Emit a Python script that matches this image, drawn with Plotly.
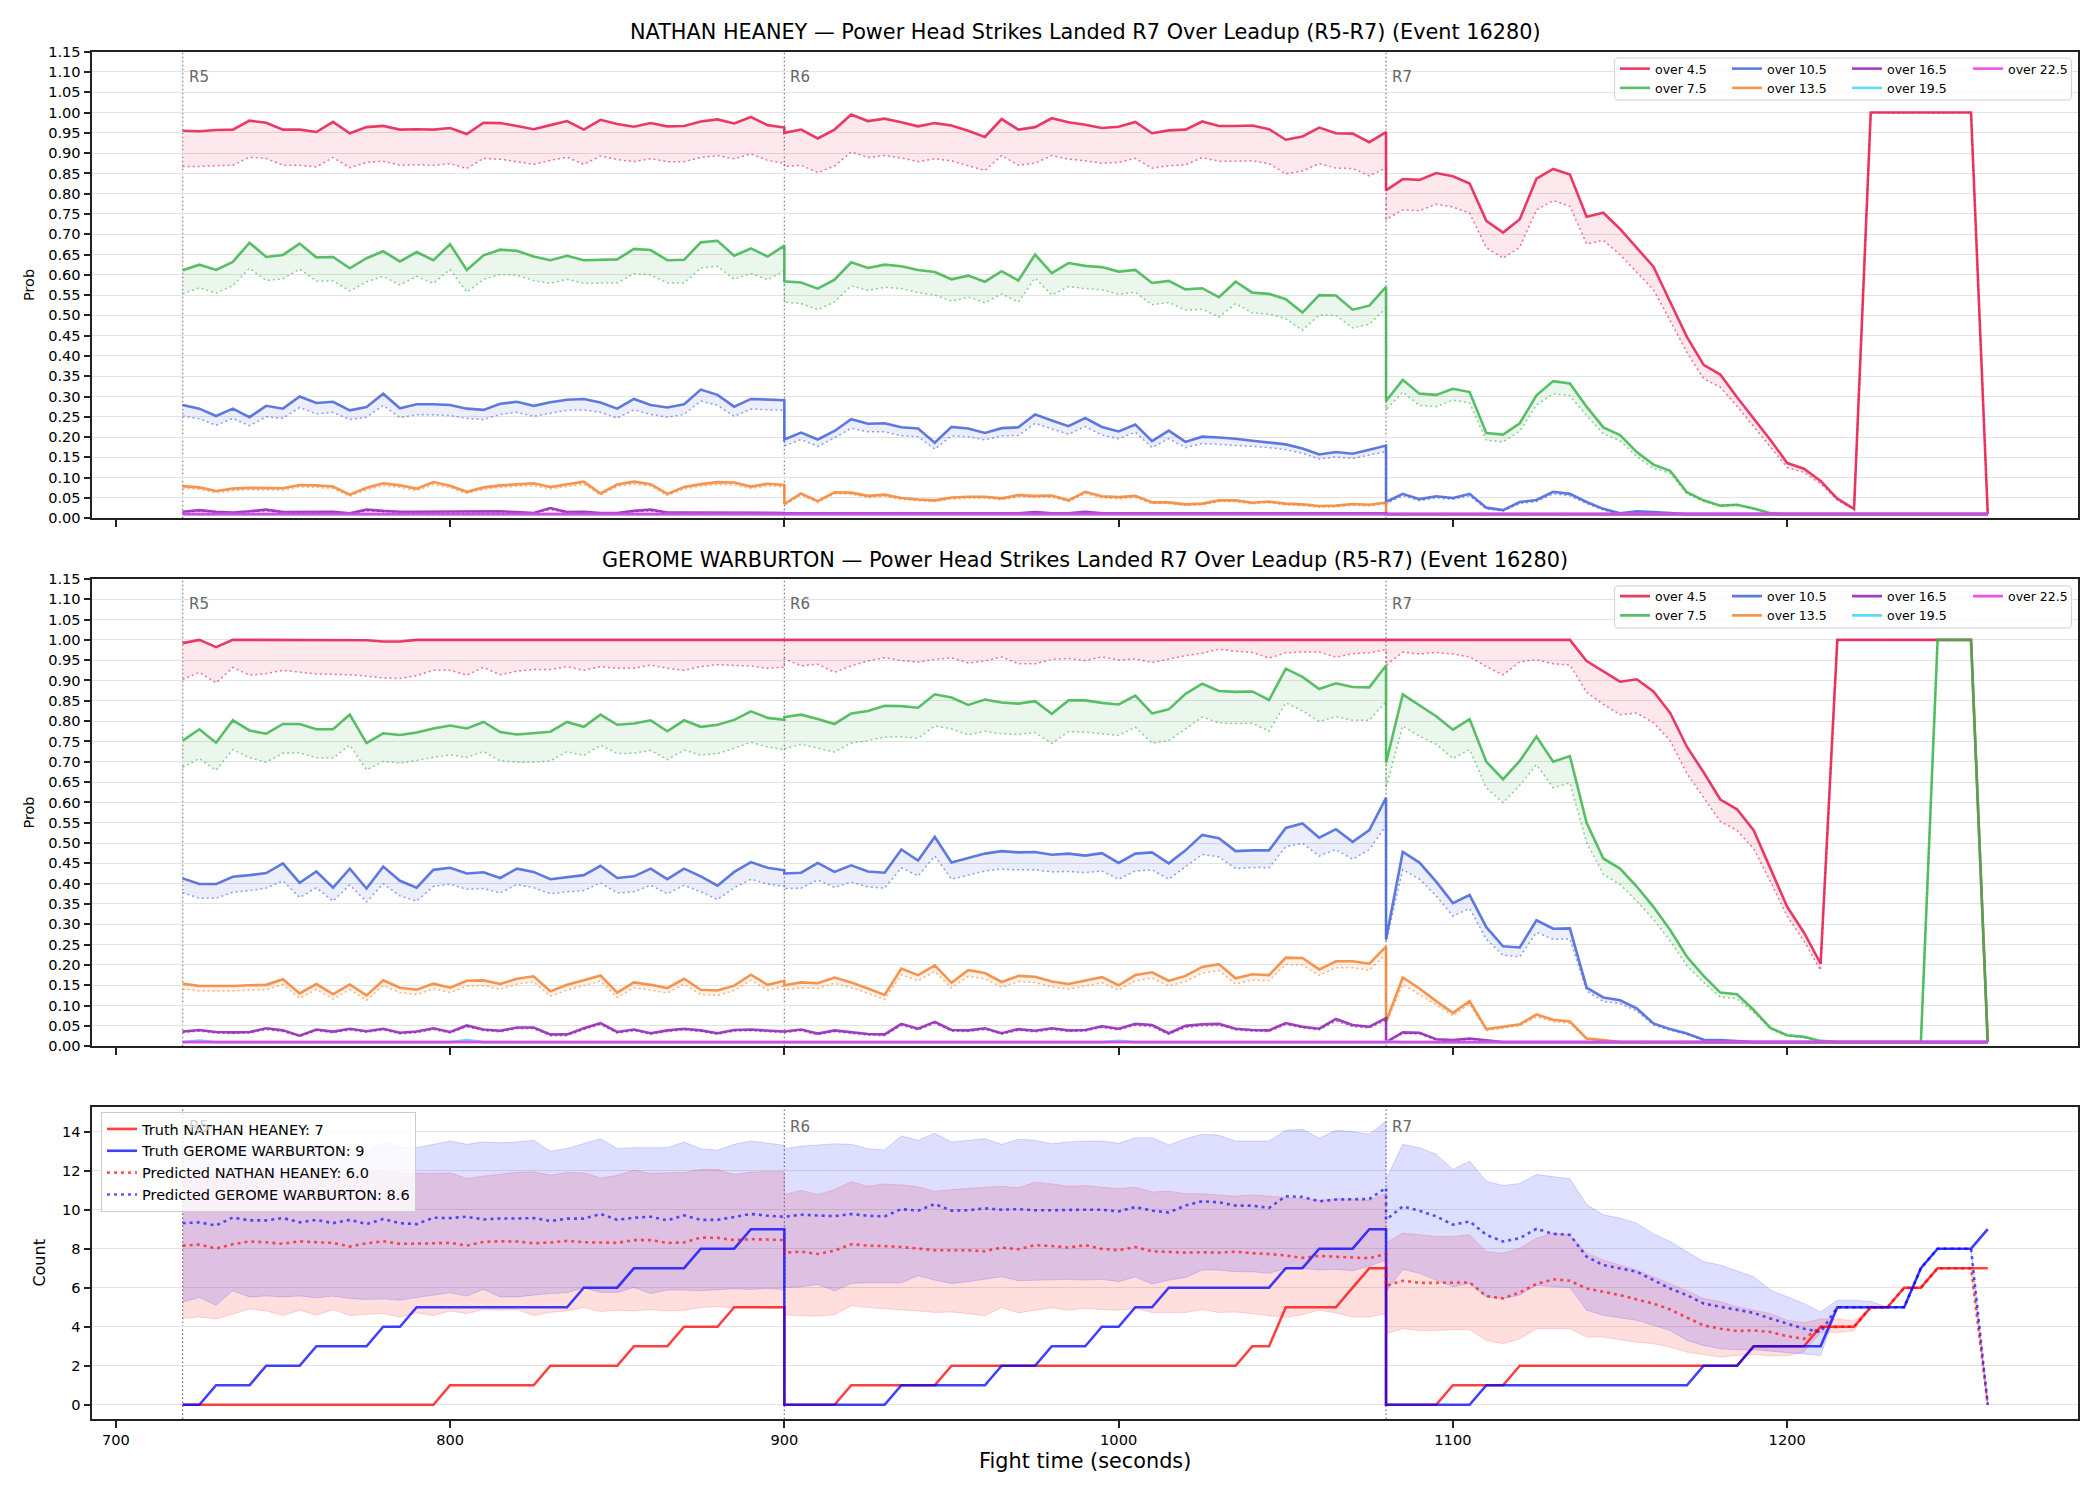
import plotly.graph_objects as go

W, H = 2100, 1500
FONT = "DejaVu Sans"

# ---------------- time grid (5 s samples, three rounds) ----------------
ROUND_STARTS = [720, 900, 1080]
ROUND_NAMES = ["R5", "R6", "R7"]
STEP = 5
PER_ROUND = 37
TIMES = [s + STEP * k for s in ROUND_STARTS for k in range(PER_ROUND)]
N = len(TIMES)

LINES = ["over 4.5", "over 7.5", "over 10.5", "over 13.5", "over 16.5", "over 19.5", "over 22.5"]
LINE_COLORS = ["#e6194b", "#3cb44b", "#4363d8", "#f58231", "#911eb4", "#42d4f4", "#f032e6"]

# ---------------- NATHAN HEANEY probabilities (solid / dotted) ----------------
H_O45 = ([0.955,0.954,0.957,0.958,0.980,0.975,0.958,0.958,0.952,0.977,0.949,0.964,0.967,0.958,0.959,0.958,0.962,0.947,0.975,0.974,0.967,0.959,0.969,0.979,0.958,0.982,0.972,0.965,0.974,0.966,0.967,0.978,0.983,0.973,0.989,0.969,0.963]
         + [0.950,0.958,0.936,0.958,0.995,0.979,0.985,0.976,0.966,0.974,0.968,0.955,0.940,0.984,0.958,0.964,0.986,0.976,0.970,0.962,0.965,0.977,0.949,0.956,0.958,0.978,0.967,0.967,0.968,0.959,0.933,0.941,0.963,0.949,0.948,0.927,0.952]
         + [0.808,0.836,0.834,0.851,0.843,0.825,0.733,0.704,0.737,0.837,0.861,0.847,0.743,0.753,0.713,0.666,0.620,0.533,0.447,0.378,0.354,0.298,0.246,0.193,0.136,0.122,0.092,0.048,0.023] + [1.0]*7 + [0.01])
H_O45_LO = ([0.867,0.867,0.869,0.870,0.890,0.887,0.870,0.870,0.866,0.889,0.864,0.877,0.880,0.870,0.871,0.870,0.874,0.862,0.887,0.885,0.879,0.872,0.882,0.890,0.872,0.893,0.884,0.879,0.886,0.879,0.879,0.889,0.894,0.886,0.898,0.882,0.875]
            + [0.867,0.870,0.852,0.868,0.903,0.889,0.894,0.888,0.879,0.886,0.881,0.869,0.857,0.894,0.870,0.875,0.894,0.885,0.881,0.875,0.877,0.887,0.863,0.869,0.871,0.889,0.880,0.880,0.881,0.874,0.849,0.856,0.874,0.863,0.862,0.844,0.863]
            + [0.736,0.760,0.758,0.774,0.767,0.752,0.667,0.641,0.668,0.760,0.783,0.769,0.676,0.685,0.650,0.607,0.563,0.487,0.409,0.344,0.323,0.276,0.226,0.177,0.125,0.113,0.085,0.045,0.021] + [1.0]*7 + [0.01])
H_O75 = ([0.611,0.625,0.612,0.632,0.679,0.644,0.649,0.677,0.643,0.644,0.616,0.641,0.658,0.633,0.656,0.636,0.675,0.612,0.648,0.662,0.659,0.645,0.636,0.647,0.636,0.637,0.638,0.664,0.661,0.636,0.637,0.680,0.684,0.647,0.665,0.645,0.672]
         + [0.584,0.581,0.566,0.588,0.631,0.617,0.625,0.621,0.612,0.607,0.589,0.598,0.583,0.609,0.586,0.650,0.604,0.629,0.622,0.619,0.608,0.612,0.580,0.585,0.564,0.567,0.545,0.583,0.556,0.553,0.540,0.507,0.550,0.549,0.514,0.524,0.570]
         + [0.289,0.341,0.307,0.304,0.319,0.311,0.210,0.206,0.234,0.303,0.338,0.332,0.275,0.224,0.205,0.163,0.132,0.117,0.064,0.044,0.031,0.033,0.024,0.012] + [0.01]*13)
H_O75_LO = ([0.553,0.568,0.555,0.573,0.616,0.586,0.590,0.614,0.585,0.585,0.560,0.583,0.596,0.575,0.596,0.579,0.613,0.557,0.589,0.601,0.599,0.586,0.579,0.589,0.579,0.580,0.580,0.603,0.600,0.580,0.580,0.617,0.621,0.589,0.603,0.588,0.610]
            + [0.533,0.529,0.514,0.533,0.573,0.562,0.569,0.566,0.556,0.550,0.535,0.545,0.531,0.553,0.533,0.592,0.550,0.571,0.566,0.563,0.552,0.557,0.526,0.532,0.513,0.515,0.496,0.529,0.506,0.503,0.492,0.463,0.501,0.500,0.469,0.478,0.518]
            + [0.267,0.311,0.278,0.275,0.291,0.284,0.192,0.188,0.215,0.279,0.307,0.302,0.253,0.208,0.191,0.152,0.123,0.111,0.060,0.041,0.030,0.032,0.023,0.012] + [0.01]*13)
H_O105 = ([0.279,0.270,0.252,0.270,0.249,0.277,0.270,0.300,0.284,0.287,0.266,0.274,0.307,0.271,0.281,0.281,0.279,0.270,0.267,0.282,0.287,0.277,0.286,0.292,0.294,0.285,0.270,0.294,0.279,0.273,0.281,0.317,0.304,0.275,0.294,0.293,0.291]
          + [0.194,0.211,0.194,0.215,0.244,0.233,0.234,0.224,0.221,0.186,0.225,0.221,0.210,0.222,0.224,0.256,0.241,0.227,0.247,0.225,0.214,0.231,0.190,0.216,0.188,0.201,0.199,0.196,0.191,0.187,0.182,0.172,0.157,0.163,0.159,0.169,0.179]
          + [0.040,0.060,0.047,0.054,0.050,0.060,0.026,0.020,0.040,0.045,0.065,0.060,0.040,0.023,0.012,0.017,0.015,0.012] + [0.01]*19)
H_O105_LO = ([0.252,0.245,0.229,0.246,0.228,0.250,0.246,0.273,0.257,0.261,0.243,0.249,0.278,0.248,0.255,0.255,0.253,0.246,0.243,0.256,0.261,0.251,0.259,0.266,0.267,0.261,0.247,0.267,0.256,0.249,0.256,0.289,0.278,0.251,0.269,0.268,0.266]
             + [0.178,0.194,0.177,0.198,0.222,0.213,0.213,0.203,0.201,0.170,0.203,0.201,0.193,0.203,0.204,0.234,0.220,0.207,0.226,0.205,0.196,0.212,0.174,0.196,0.174,0.184,0.182,0.180,0.177,0.174,0.169,0.160,0.146,0.151,0.147,0.156,0.164]
             + [0.036,0.055,0.043,0.050,0.046,0.055,0.023,0.018,0.036,0.041,0.060,0.055,0.036,0.020,0.011,0.015,0.013,0.011] + [0.01]*19)
H_O135 = ([0.079,0.076,0.067,0.073,0.075,0.074,0.074,0.082,0.081,0.078,0.058,0.075,0.086,0.081,0.073,0.089,0.080,0.065,0.076,0.081,0.084,0.086,0.077,0.083,0.090,0.061,0.083,0.090,0.084,0.060,0.077,0.084,0.089,0.088,0.078,0.085,0.082]
          + [0.035,0.061,0.042,0.064,0.063,0.055,0.058,0.050,0.046,0.044,0.051,0.053,0.053,0.049,0.057,0.055,0.056,0.044,0.065,0.054,0.052,0.055,0.039,0.039,0.034,0.036,0.044,0.044,0.038,0.041,0.036,0.034,0.030,0.031,0.035,0.033,0.039]
          + [0.01]*37)
H_O135_LO = ([0.074,0.071,0.063,0.068,0.070,0.069,0.069,0.077,0.076,0.073,0.054,0.070,0.080,0.076,0.068,0.083,0.075,0.061,0.071,0.076,0.079,0.080,0.072,0.078,0.084,0.057,0.078,0.084,0.079,0.056,0.072,0.079,0.083,0.082,0.073,0.080,0.077]
             + [0.032,0.057,0.039,0.060,0.059,0.051,0.054,0.046,0.043,0.041,0.047,0.049,0.049,0.045,0.053,0.051,0.052,0.041,0.061,0.050,0.048,0.051,0.036,0.036,0.031,0.033,0.041,0.041,0.035,0.038,0.033,0.031,0.027,0.028,0.032,0.030,0.036]
             + [0.01]*37)
H_O165 = ([0.016,0.020,0.016,0.014,0.017,0.021,0.015,0.015,0.016,0.016,0.012,0.021,0.018,0.016,0.016,0.016,0.016,0.017,0.017,0.017,0.015,0.013,0.025,0.015,0.016,0.013,0.013,0.018,0.021,0.014,0.014,0.014,0.014,0.014,0.014,0.014,0.013]
          + [0.012]*12 + [0.013] + [0.012]*2 + [0.015] + [0.012]*2 + [0.016] + [0.012]*18
          + [0.01]*37)
H_O165_LO = ([0.014,0.017,0.014,0.012,0.015,0.018,0.013,0.013,0.014,0.014,0.011,0.018,0.016,0.014,0.014,0.014,0.014,0.015,0.015,0.015,0.013,0.012,0.021,0.013,0.014,0.012,0.012,0.016,0.018,0.012,0.012,0.012,0.012,0.012,0.012,0.012,0.012]
             + [0.011]*12 + [0.012] + [0.011]*2 + [0.013] + [0.011]*2 + [0.014] + [0.011]*18
             + [0.01]*37)
H_O195 = [0.01]*111
H_O195_LO = [0.01]*111
H_O225 = [0.01]*111
H_O225_LO = [0.01]*111

# ---------------- GEROME WARBURTON probabilities (solid / dotted) ----------------
G_O45 = ([0.992,1.0,0.982,1.0,1.0,1.0,1.0,1.0,1.0,1.0,1.0,0.999,0.996,0.996] + [1.0]*23
         + [1.0]*37
         + [1.0]*12 + [0.948,0.923,0.897,0.903,0.873,0.820,0.737,0.674,0.607,0.583,0.531,0.437,0.343,0.280,0.203] + [1.0]*9 + [0.01])
G_O45_LO = ([0.902,0.920,0.894,0.932,0.913,0.917,0.925,0.920,0.916,0.915,0.914,0.911,0.906,0.905,0.912,0.925,0.925,0.913,0.932,0.914,0.923,0.927,0.927,0.934,0.925,0.934,0.930,0.930,0.938,0.930,0.925,0.934,0.939,0.937,0.936,0.930,0.933]
            + [0.953,0.936,0.940,0.920,0.936,0.948,0.956,0.949,0.945,0.952,0.956,0.943,0.948,0.958,0.941,0.941,0.952,0.954,0.949,0.958,0.950,0.953,0.944,0.953,0.961,0.967,0.977,0.972,0.969,0.955,0.968,0.970,0.970,0.957,0.966,0.968,0.976]
            + [0.937,0.970,0.965,0.969,0.965,0.958,0.934,0.914,0.946,0.951,0.941,0.938,0.871,0.841,0.816,0.820,0.796,0.752,0.671,0.613,0.553,0.531,0.486,0.405,0.320,0.259,0.187] + [1.0]*9 + [0.01])
G_O75 = ([0.752,0.780,0.747,0.802,0.777,0.769,0.793,0.793,0.780,0.780,0.816,0.746,0.770,0.766,0.772,0.782,0.789,0.782,0.798,0.773,0.767,0.770,0.774,0.798,0.786,0.816,0.791,0.794,0.802,0.775,0.802,0.786,0.791,0.803,0.824,0.808,0.803]
         + [0.810,0.816,0.805,0.793,0.819,0.825,0.838,0.837,0.833,0.866,0.858,0.840,0.853,0.846,0.843,0.849,0.818,0.851,0.851,0.845,0.841,0.863,0.819,0.829,0.867,0.892,0.874,0.872,0.873,0.852,0.929,0.909,0.879,0.893,0.884,0.883,0.937]
         + [0.698,0.866,0.839,0.812,0.779,0.805,0.700,0.657,0.702,0.762,0.700,0.714,0.550,0.462,0.437,0.393,0.343,0.286,0.220,0.173,0.132,0.128,0.089,0.045,0.027,0.023,0.013] + [0.01]*6 + [1.0]*3 + [0.01])
G_O75_LO = ([0.686,0.708,0.679,0.730,0.710,0.699,0.721,0.722,0.710,0.709,0.741,0.680,0.701,0.697,0.703,0.711,0.717,0.711,0.725,0.702,0.699,0.699,0.702,0.725,0.715,0.741,0.720,0.721,0.728,0.705,0.729,0.716,0.720,0.733,0.748,0.736,0.730]
            + [0.732,0.743,0.733,0.724,0.746,0.752,0.761,0.761,0.758,0.788,0.781,0.766,0.775,0.769,0.767,0.772,0.745,0.774,0.773,0.769,0.765,0.785,0.746,0.752,0.782,0.810,0.796,0.794,0.795,0.775,0.845,0.825,0.799,0.811,0.802,0.802,0.848]
            + [0.636,0.788,0.763,0.743,0.708,0.730,0.636,0.599,0.642,0.693,0.636,0.648,0.501,0.423,0.398,0.357,0.312,0.259,0.198,0.157,0.121,0.117,0.083,0.042,0.025,0.021,0.012] + [0.01]*6 + [1.0]*3 + [0.01])
G_O105 = ([0.413,0.399,0.399,0.417,0.421,0.426,0.450,0.402,0.430,0.390,0.437,0.388,0.442,0.407,0.390,0.434,0.439,0.425,0.428,0.414,0.437,0.429,0.411,0.416,0.421,0.444,0.414,0.418,0.437,0.411,0.437,0.418,0.395,0.429,0.453,0.439,0.433]
          + [0.425,0.427,0.451,0.429,0.445,0.430,0.427,0.484,0.457,0.515,0.452,0.463,0.474,0.480,0.477,0.478,0.471,0.474,0.469,0.475,0.451,0.474,0.477,0.450,0.482,0.520,0.512,0.480,0.482,0.482,0.537,0.548,0.513,0.534,0.503,0.532,0.611]
          + [0.263,0.478,0.452,0.405,0.352,0.372,0.293,0.246,0.243,0.310,0.289,0.290,0.144,0.120,0.113,0.093,0.056,0.042,0.031,0.016,0.015,0.013] + [0.01]*15)
G_O105_LO = ([0.378,0.364,0.364,0.379,0.383,0.389,0.407,0.366,0.390,0.357,0.397,0.355,0.400,0.370,0.357,0.393,0.399,0.386,0.388,0.377,0.398,0.390,0.375,0.380,0.383,0.402,0.377,0.380,0.396,0.375,0.396,0.380,0.361,0.390,0.411,0.399,0.393]
             + [0.388,0.389,0.409,0.391,0.404,0.392,0.389,0.439,0.419,0.468,0.411,0.421,0.431,0.436,0.434,0.434,0.429,0.430,0.427,0.431,0.411,0.431,0.434,0.411,0.441,0.472,0.466,0.437,0.440,0.439,0.491,0.499,0.468,0.484,0.460,0.484,0.543]
             + [0.257,0.435,0.411,0.370,0.320,0.339,0.263,0.224,0.220,0.280,0.263,0.264,0.136,0.110,0.105,0.087,0.052,0.039,0.029,0.015,0.012,0.011] + [0.01]*15)
G_O135 = ([0.154,0.148,0.148,0.148,0.150,0.151,0.165,0.130,0.153,0.128,0.152,0.125,0.162,0.144,0.139,0.154,0.144,0.161,0.162,0.153,0.166,0.172,0.135,0.151,0.162,0.174,0.132,0.157,0.151,0.143,0.166,0.139,0.137,0.149,0.176,0.151,0.161]
          + [0.150,0.157,0.155,0.169,0.157,0.142,0.126,0.191,0.175,0.199,0.156,0.187,0.180,0.158,0.173,0.171,0.159,0.153,0.161,0.170,0.150,0.175,0.182,0.161,0.173,0.195,0.202,0.167,0.177,0.175,0.218,0.217,0.189,0.209,0.209,0.203,0.245]
          + [0.060,0.169,0.142,0.111,0.082,0.111,0.042,0.048,0.054,0.078,0.065,0.061,0.019,0.015] + [0.01]*23)
G_O135_LO = ([0.141,0.136,0.136,0.136,0.138,0.139,0.152,0.118,0.140,0.116,0.139,0.113,0.149,0.132,0.127,0.141,0.132,0.148,0.149,0.140,0.153,0.158,0.123,0.138,0.149,0.160,0.120,0.144,0.138,0.131,0.153,0.127,0.125,0.137,0.162,0.138,0.148]
             + [0.138,0.144,0.142,0.155,0.144,0.130,0.115,0.176,0.161,0.184,0.143,0.172,0.166,0.145,0.159,0.157,0.146,0.140,0.148,0.156,0.138,0.161,0.168,0.148,0.159,0.180,0.186,0.153,0.163,0.161,0.201,0.200,0.174,0.193,0.193,0.187,0.226]
             + [0.055,0.152,0.128,0.102,0.075,0.104,0.038,0.044,0.050,0.072,0.060,0.056,0.017,0.013] + [0.01]*23)
G_O165 = ([0.036,0.040,0.035,0.034,0.035,0.044,0.039,0.026,0.041,0.036,0.043,0.037,0.043,0.033,0.036,0.044,0.035,0.051,0.041,0.038,0.046,0.046,0.029,0.029,0.044,0.057,0.035,0.041,0.032,0.039,0.043,0.039,0.032,0.040,0.041,0.039,0.036]
          + [0.036,0.041,0.031,0.039,0.035,0.030,0.029,0.055,0.043,0.060,0.040,0.039,0.044,0.032,0.042,0.038,0.044,0.039,0.040,0.049,0.043,0.055,0.052,0.032,0.050,0.054,0.055,0.043,0.040,0.039,0.057,0.048,0.043,0.067,0.052,0.048,0.069]
          + [0.01,0.034,0.033,0.017,0.015,0.019,0.014] + [0.01]*30)
G_O165_LO = ([0.033,0.037,0.032,0.031,0.032,0.041,0.036,0.024,0.038,0.033,0.040,0.034,0.040,0.030,0.033,0.041,0.032,0.048,0.038,0.035,0.043,0.043,0.026,0.026,0.041,0.053,0.032,0.038,0.029,0.036,0.040,0.036,0.029,0.037,0.038,0.036,0.033]
             + [0.033,0.038,0.028,0.036,0.032,0.027,0.026,0.051,0.040,0.056,0.037,0.036,0.041,0.029,0.039,0.035,0.041,0.036,0.037,0.046,0.040,0.051,0.048,0.029,0.046,0.050,0.051,0.040,0.037,0.036,0.053,0.045,0.040,0.062,0.048,0.045,0.064]
             + [0.01,0.031,0.030,0.015,0.013,0.017,0.012] + [0.01]*30)
G_O195 = ([0.01,0.014] + [0.01]*15 + [0.015] + [0.01]*19
          + [0.01]*20 + [0.013] + [0.01]*16
          + [0.012] + [0.01]*36)
G_O195_LO = [0.01]*111
G_O225 = [0.01]*111
G_O225_LO = [0.01]*111

# ---------------- counts panel ----------------
TRUTH_NAME_H = "Truth NATHAN HEANEY: 7"
TRUTH_NAME_G = "Truth GEROME WARBURTON: 9"
PRED_NAME_H = "Predicted NATHAN HEANEY: 6.0"
PRED_NAME_G = "Predicted GEROME WARBURTON: 8.6"

TRUTH_H = ([0]*16 + [1]*6 + [2]*5 + [3]*3 + [4]*3 + [5]*4
           + [0]*4 + [1]*6 + [2]*18 + [3]*2 + [5]*4 + [6] + [7]*2
           + [0]*4 + [1]*4 + [2]*14 + [3]*4 + [4]*3 + [5]*2 + [6]*2 + [7]*4)
TRUTH_G = ([0]*2 + [1]*3 + [2]*3 + [3]*4 + [4]*2 + [5]*10 + [6]*3 + [7]*4 + [8]*3 + [9]*3
           + [0]*7 + [1]*6 + [2]*3 + [3]*3 + [4]*2 + [5]*2 + [6]*7 + [7]*2 + [8]*3 + [9]*2
           + [0]*6 + [1]*13 + [2]*3 + [3]*5 + [5]*5 + [7] + [8]*3 + [9])
PRED_H = ([8.16,8.21,8.01,8.23,8.37,8.33,8.25,8.38,8.33,8.30,8.11,8.28,8.38,8.25,8.26,8.28,8.30,8.16,8.35,8.38,8.37,8.28,8.32,8.40,8.33,8.32,8.30,8.44,8.44,8.30,8.32,8.57,8.56,8.44,8.49,8.47,8.44]
          + [7.80,7.85,7.73,7.90,8.23,8.16,8.13,8.09,8.01,7.92,7.92,7.92,7.87,8.06,7.97,8.18,8.14,8.06,8.18,7.99,7.92,8.09,7.87,7.84,7.80,7.82,7.80,7.85,7.77,7.73,7.65,7.53,7.63,7.59,7.54,7.51,7.73]
          + [6.10,6.36,6.25,6.25,6.25,6.27,5.57,5.45,5.76,6.19,6.43,6.36,5.96,5.79,5.62,5.40,5.19,4.88,4.47,4.07,3.90,3.78,3.81,3.73,3.51,3.38,3.99,4.0,4.0,5.0,5.0,6.0,6.0,7.0,7.0,7.0,0.0])
PRED_G = ([9.31,9.35,9.19,9.60,9.45,9.45,9.57,9.35,9.48,9.31,9.48,9.26,9.52,9.31,9.26,9.59,9.57,9.64,9.50,9.55,9.55,9.57,9.42,9.54,9.54,9.78,9.48,9.59,9.64,9.45,9.71,9.48,9.48,9.64,9.78,9.69,9.66]
          + [9.64,9.74,9.71,9.67,9.78,9.69,9.66,10.03,9.95,10.29,9.95,9.97,10.07,10.00,10.03,9.97,9.97,10.00,10.00,10.00,9.91,10.14,9.95,9.86,10.21,10.43,10.38,10.21,10.21,10.09,10.69,10.65,10.43,10.52,10.52,10.55,11.12]
          + [9.48,10.17,9.95,9.66,9.23,9.40,8.71,8.37,8.54,9.02,8.76,8.71,7.59,7.16,6.99,6.82,6.39,5.96,5.62,5.19,5.02,4.88,4.71,4.42,4.16,3.90,3.73,5.0,5.0,5.0,5.0,5.0,7.0,8.0,8.0,8.0,0.0])
BAND_H_HI = ([11.96,11.89,11.86,12.03,11.96,11.98,11.84,11.96,11.89,11.84,11.72,11.96,11.99,11.89,11.87,11.86,11.89,11.60,11.72,11.82,11.92,11.94,11.77,11.91,11.89,11.63,11.75,12.03,11.86,11.89,11.91,12.06,12.06,11.80,11.92,11.96,11.96]
             + [10.77,11.00,10.77,11.03,11.43,11.20,11.32,11.27,11.17,10.95,11.03,11.08,11.12,11.20,11.12,11.41,11.32,11.20,11.24,11.17,11.08,11.15,10.91,10.95,10.82,10.82,10.76,10.69,10.77,10.70,10.60,10.55,10.48,10.55,10.52,10.48,10.86]
             + [8.30,8.80,8.71,8.63,8.63,8.71,7.85,7.77,8.02,8.54,8.80,8.71,7.77,7.42,7.16,6.90,6.56,6.22,5.84,5.45,5.28,5.02,4.85,4.67,4.33,4.21,4.40,4.40,4.30,5.0,5.0,6.0,6.0,7.0,7.0,7.0,0.0])
BAND_H_LO = ([4.43,4.50,4.40,4.67,4.91,4.81,4.57,4.85,4.59,4.88,4.57,4.64,4.67,4.50,4.71,4.57,4.81,4.67,4.88,4.85,4.88,4.57,4.74,4.81,4.98,4.78,4.85,4.81,4.88,4.81,4.85,4.98,5.03,4.97,5.02,4.95,4.98]
             + [4.60,4.57,4.54,4.62,5.07,4.98,4.93,4.85,4.81,4.73,4.76,4.67,4.57,4.98,4.71,4.85,4.97,4.85,4.95,4.88,4.85,4.93,4.73,4.73,4.73,4.88,4.73,4.76,4.67,4.55,4.47,4.62,4.85,4.71,4.50,4.50,4.67]
             + [3.64,3.90,3.81,3.81,3.85,3.85,3.30,3.13,3.38,3.90,3.90,3.90,3.47,3.47,3.33,3.21,3.13,2.96,2.70,2.58,2.44,2.53,2.58,2.51,2.51,2.70,3.70,3.70,3.80,5.0,5.0,6.0,6.0,7.0,7.0,7.0,0.0])
BAND_G_HI = ([12.90,13.00,12.80,13.30,13.20,13.10,13.40,13.00,13.30,13.20,13.10,13.00,13.45,13.20,13.18,13.35,13.52,13.35,13.47,13.43,13.47,13.56,13.00,13.14,13.38,13.64,13.14,13.18,13.18,13.18,13.47,13.12,13.05,13.35,13.52,13.40,13.30]
             + [13.13,13.26,13.32,13.38,13.35,13.13,13.06,13.78,13.56,13.92,13.47,13.57,13.64,13.35,13.61,13.56,13.38,13.47,13.52,13.52,13.40,13.69,13.69,13.32,13.64,13.87,13.81,13.52,13.52,13.52,14.07,14.12,13.66,14.07,14.00,13.87,14.55]
             + [11.55,13.35,13.18,12.84,12.06,12.49,11.46,11.24,11.34,11.80,11.68,11.58,10.26,9.74,9.57,9.31,8.76,8.37,7.85,7.34,7.16,6.87,6.56,5.88,5.53,5.19,4.76,5.36,5.36,5.30,5.0,5.0,7.0,8.0,8.0,8.0,0.0])
BAND_G_LO = ([5.27,5.50,5.10,5.84,5.53,5.58,5.53,5.58,5.48,5.57,5.45,5.40,5.43,5.36,5.50,5.62,5.74,5.57,5.91,5.53,5.53,5.62,5.70,5.74,6.00,5.76,5.76,6.01,5.70,5.88,5.88,5.84,5.88,5.95,5.91,5.96,5.91]
             + [6.01,6.05,6.17,5.84,6.22,6.25,6.25,6.25,6.62,6.39,6.22,6.31,6.44,6.56,6.36,6.39,6.39,6.43,6.39,6.43,6.31,6.56,6.19,6.39,6.53,6.91,6.91,6.82,6.82,6.74,6.99,6.99,6.91,6.94,6.87,7.11,7.42]
             + [5.79,6.94,6.74,6.39,6.05,6.22,5.53,5.45,5.62,6.13,6.05,6.01,4.85,4.59,4.47,4.33,4.07,3.81,3.30,3.04,2.87,2.82,2.82,2.75,2.70,2.61,2.53,4.95,4.95,4.95,5.0,5.0,7.0,8.0,8.0,8.0,0.0])

TITLE_H = "NATHAN HEANEY — Power Head Strikes Landed R7 Over Leadup (R5-R7) (Event 16280)"
TITLE_G = "GEROME WARBURTON — Power Head Strikes Landed R7 Over Leadup (R5-R7) (Event 16280)"
X_TICKS = [700, 800, 900, 1000, 1100, 1200]

PANEL_MAIN = [[H_O45, H_O75, H_O105, H_O135, H_O165, H_O195, H_O225],
              [G_O45, G_O75, G_O105, G_O135, G_O165, G_O195, G_O225]]
PANEL_LOW = [[H_O45_LO, H_O75_LO, H_O105_LO, H_O135_LO, H_O165_LO, H_O195_LO, H_O225_LO],
             [G_O45_LO, G_O75_LO, G_O105_LO, G_O135_LO, G_O165_LO, G_O195_LO, G_O225_LO]]

for grp in PANEL_MAIN + PANEL_LOW:
    for s in grp:
        assert len(s) == N, len(s)
for s in [TRUTH_H, TRUTH_G, PRED_H, PRED_G, BAND_H_HI, BAND_H_LO, BAND_G_HI, BAND_G_LO]:
    assert len(s) == N, len(s)


def rgba(hx, a):
    hx = hx.lstrip('#')
    return "rgba(%d,%d,%d,%s)" % (int(hx[0:2], 16), int(hx[2:4], 16), int(hx[4:6], 16), a)


# ---------------- layout geometry ----------------
X_DOM = [92.4 / W, 2078 / W]
PANEL_PX = [(51.7, 518.2), (578.9, 1046.2), (1106.7, 1419.0)]
Y_DOMS = [[1 - b / H, 1 - t / H] for t, b in PANEL_PX]
AX = [("x", "y"), ("x2", "y2"), ("x3", "y3")]

fig = go.Figure()

legend_names = [["legend", "legend2", "legend3", "legend4"],
                ["legend5", "legend6", "legend7", "legend8"]]

for p in range(2):
    xa, ya = AX[p]
    for i, name in enumerate(LINES):
        c = LINE_COLORS[i]
        fig.add_trace(go.Scatter(
            x=TIMES, y=PANEL_MAIN[p][i], mode="lines", name=name,
            line=dict(color=rgba(c, 0.85), width=2.6),
            legend=legend_names[p][i // 2], xaxis=xa, yaxis=ya, hoverinfo="skip"))
        fig.add_trace(go.Scatter(
            x=TIMES, y=PANEL_LOW[p][i], mode="lines", showlegend=False,
            line=dict(color=rgba(c, 0.6), width=1.5, dash="2px,3px"),
            fill="tonexty", fillcolor=rgba(c, 0.1),
            xaxis=xa, yaxis=ya, hoverinfo="skip"))

# counts panel: bands
for lo, hi, col in [(BAND_H_LO, BAND_H_HI, "#ff0000"), (BAND_G_LO, BAND_G_HI, "#0000ff")]:
    fig.add_trace(go.Scatter(x=TIMES, y=lo, mode="lines", showlegend=False,
                             line=dict(color=rgba(col, 0.15), width=1),
                             xaxis="x3", yaxis="y3", hoverinfo="skip"))
    fig.add_trace(go.Scatter(x=TIMES, y=hi, mode="lines", showlegend=False,
                             line=dict(color=rgba(col, 0.15), width=1),
                             fill="tonexty", fillcolor=rgba(col, 0.13),
                             xaxis="x3", yaxis="y3", hoverinfo="skip"))

count_series = [
    (TRUTH_H, TRUTH_NAME_H, "rgba(255,0,0,0.75)", None),
    (TRUTH_G, TRUTH_NAME_G, "rgba(0,0,255,0.75)", None),
    (PRED_H, PRED_NAME_H, "rgba(255,0,0,0.65)", "3px,4px"),
    (PRED_G, PRED_NAME_G, "rgba(0,0,255,0.65)", "3px,4px"),
]
for j, (ys, nm, col, dash) in enumerate(count_series):
    ln = dict(color=col, width=2.6)
    if dash:
        ln["dash"] = dash
    fig.add_trace(go.Scatter(x=TIMES, y=ys, mode="lines", name=nm, line=ln,
                             legend="legend9", legendgroup="cnt%d" % j,
                             xaxis="x3", yaxis="y3", hoverinfo="skip"))

# ---------------- axes ----------------
axis_line = dict(showline=True, linecolor="#222222", linewidth=1.7, mirror=True,
                 ticks="outside", ticklen=7, tickwidth=1.5, tickcolor="#222222",
                 zeroline=False, tickfont=dict(family=FONT, size=14.6, color="#000000"))
layout = dict(width=W, height=H, margin=dict(l=0, r=0, t=0, b=0, autoexpand=False),
              paper_bgcolor="white", plot_bgcolor="white", hovermode=False,
              font=dict(family=FONT, color="#000000"))
for p in range(3):
    xk = "xaxis" if p == 0 else "xaxis%d" % (p + 1)
    yk = "yaxis" if p == 0 else "yaxis%d" % (p + 1)
    xa, ya = AX[p]
    layout[xk] = dict(domain=X_DOM, anchor=ya, range=[693, 1287], tickvals=X_TICKS,
                      showgrid=False, showticklabels=(p == 2), **axis_line)
    if p < 2:
        layout[yk] = dict(domain=Y_DOMS[p], anchor=xa, range=[0, 1.15], dtick=0.05, tick0=0,
                          tickformat=".2f", showgrid=True, gridcolor="#e3e3e3", gridwidth=1,
                          title=dict(text="Prob", font=dict(family=FONT, size=14.4), standoff=10),
                          **axis_line)
    else:
        layout[yk] = dict(domain=Y_DOMS[p], anchor=xa, range=[-0.73, 15.28], dtick=2, tick0=0,
                          showgrid=True, gridcolor="#e3e3e3", gridwidth=1,
                          title=dict(text="Count", font=dict(family=FONT, size=16), standoff=12),
                          **axis_line)
layout["xaxis3"]["title"] = dict(text="Fight time (seconds)", font=dict(family=FONT, size=20.8), standoff=6)

# legends
col_text_px = [1655, 1767, 1887, 2008]
row_top_px = [54, 581.5]
for p in range(2):
    for c in range(4):
        layout[legend_names[p][c]] = dict(
            x=(col_text_px[c] - 40) / W, xanchor="left",
            y=1 - row_top_px[p] / H, yanchor="top", traceorder="normal",
            bgcolor="rgba(0,0,0,0)", borderwidth=0, tracegroupgap=0,
            font=dict(family=FONT, size=12.5, color="#000000"))
layout["legend9"] = dict(x=101 / W, xanchor="left", y=1 - 1112 / H, yanchor="top", traceorder="normal",
                         bgcolor="rgba(255,255,255,0.8)", bordercolor="#cccccc", borderwidth=1,
                         tracegroupgap=1.5, font=dict(family=FONT, size=14.5, color="#000000"))

# shapes: round boundaries and legend frames
shapes = []
for p in range(3):
    xa, ya = AX[p]
    for s in ROUND_STARTS:
        shapes.append(dict(type="line", xref=xa, yref=ya + " domain", x0=s, x1=s, y0=0, y1=1,
                           line=dict(color="rgba(0,0,0,0.55)", width=1.2, dash="1.5px,2.5px"),
                           layer="below"))


def rounded_box(x0p, x1p, y0p, y1p, r=4):
    x0, x1 = x0p / W, x1p / W
    y0, y1 = 1 - y1p / H, 1 - y0p / H
    rx, ry = r / W, r / H
    return ("M %f,%f L %f,%f Q %f,%f %f,%f L %f,%f Q %f,%f %f,%f L %f,%f Q %f,%f %f,%f "
            "L %f,%f Q %f,%f %f,%f Z" % (
                x0 + rx, y0, x1 - rx, y0, x1, y0, x1, y0 + ry, x1, y1 - ry, x1, y1, x1 - rx, y1,
                x0 + rx, y1, x0, y1, x0, y1 - ry, x0, y0 + ry, x0, y0, x0 + rx, y0))


for (t, b) in [(58, 100), (585.9, 628)]:
    shapes.append(dict(type="path", xref="paper", yref="paper", path=rounded_box(1614.6, 2071.4, t, b),
                       fillcolor="rgba(255,255,255,0.8)", line=dict(color="#d0d0d0", width=1),
                       layer="above"))
layout["shapes"] = shapes

# annotations: titles + round labels
ann = []
for txt, ypx in [(TITLE_H, 32), (TITLE_G, 559.6)]:
    ann.append(dict(text=txt, xref="paper", yref="paper", x=(92.4 + 2078) / 2 / W, y=1 - ypx / H,
                    xanchor="center", yanchor="middle", showarrow=False,
                    font=dict(family=FONT, size=20.8, color="#000000")))
for p in range(3):
    xa, ya = AX[p]
    for s, nm in zip(ROUND_STARTS, ROUND_NAMES):
        # the first label of the counts panel sits under the (semi-opaque) legend box
        col = "#d2d2d2" if (p == 2 and s == ROUND_STARTS[0]) else "#666666"
        ann.append(dict(text=nm, xref=xa, yref=ya + " domain", x=s, y=0.97,
                        xanchor="left", yanchor="top", xshift=4, showarrow=False,
                        font=dict(family=FONT, size=15, color=col)))
layout["annotations"] = ann

fig.update_layout(**layout)
fig.write_html("out.html",
               post_script="document.body.style.margin='0px';document.body.style.padding='0px';")
